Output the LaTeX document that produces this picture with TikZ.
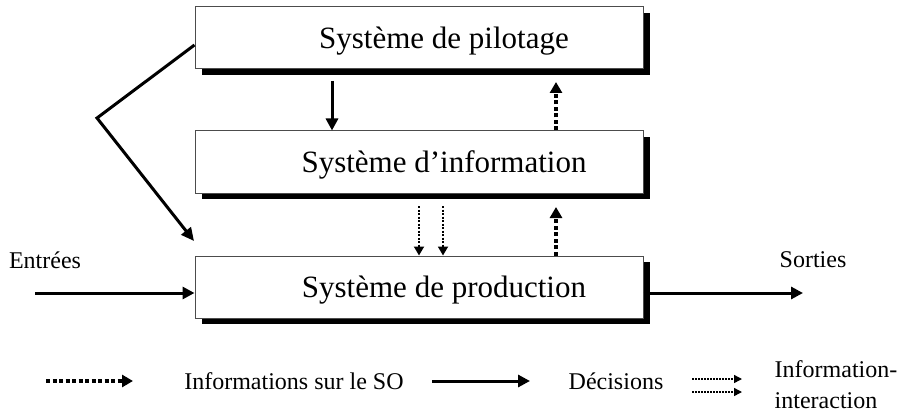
\documentclass[tikz,border=0pt]{standalone}
\usepackage{fontspec}
\setmainfont{Liberation Serif}
\usetikzlibrary{arrows.meta,shadows}
\begin{document}
\begin{tikzpicture}[x=1pt,y=-1pt,
  sysbox/.style={draw=black!70, line width=1pt, fill=white,
    minimum width=448pt, minimum height=62pt, inner sep=0pt,
    text height=21pt, text depth=0pt,
    font=\fontsize{31}{36}\selectfont,
    execute at begin node={\hspace*{50pt}},
    drop shadow={shadow xshift=7pt, shadow yshift=-6pt, fill=black, opacity=1}},
  lbl/.style={inner sep=0pt, font=\fontsize{24}{31}\selectfont},
  solidar/.style={line width=3pt, -{Triangle[length=12pt,width=12pt]}},
  dotar/.style={line width=3.5pt, dash pattern=on 4pt off 2.5pt, -{Triangle[length=11pt,width=12pt]}},
  thindot/.style={line width=1.8pt, dash pattern=on 2pt off 1.5pt, -{Triangle[length=9pt,width=10pt]}},
  legthin/.style={line width=1.4pt, dash pattern=on 2pt off 1pt, -{Triangle[length=8pt,width=8pt]}}
]
\useasboundingbox (0,0) rectangle (920,414);

% boxes
\node[sysbox] (pil) at (419,38) {Système de pilotage};
\node[sysbox] (info) at (419,162) {Système d’information};
\node[sysbox] (prod) at (419,287) {Système de production};

% side labels
\node[lbl] (ent) at (45,260) {Entrées};
\node[lbl] (sor) at (813,260) {Sorties};

% coordinates
\coordinate (d1) at (332,81);
\coordinate (u1) at (556,82);
\coordinate (u2) at (556,207);
\coordinate (t1) at (419,206);
\coordinate (t2) at (443,206);
\coordinate (b0) at (0,45);
\coordinate (bend) at (97,118);
\coordinate (btip) at (194,241);
\coordinate (ein) at (35,293);
\coordinate (sout) at (803,293);

% connectors
\draw[solidar] (d1) -- (info.north -| d1);
\draw[dotar] (info.north -| u1) -- (u1);
\draw[dotar] (prod.north -| u2) -- (u2);
\draw[thindot] (t1) -- (prod.north -| t1);
\draw[thindot] (t2) -- (prod.north -| t2);
\draw[line width=3pt, line join=miter, -{Triangle[length=13pt,width=12pt]}] (pil.west |- b0) -- (bend) -- (btip);
\draw[solidar] (ein) -- (prod.west |- ein);
\draw[solidar] (prod.east |- sout) -- (sout);

% legend
\coordinate (la1) at (46,381);
\coordinate (la2) at (133,381);
\coordinate (lb1) at (432,381);
\coordinate (lb2) at (530,381);
\coordinate (lc1) at (692,379);
\coordinate (lc2) at (742,379);
\coordinate (ld1) at (692,392);
\coordinate (ld2) at (742,392);
\draw[dotar] (la1) -- (la2);
\draw[solidar] (lb1) -- (lb2);
\draw[legthin] (lc1) -- (lc2);
\draw[legthin] (ld1) -- (ld2);
\node[lbl] (l1) at (294,381) {Informations sur le SO};
\node[lbl] (l2) at (616,381) {Décisions};
\node[lbl, align=left] (l3) at (836,384.5) {Information-\\interaction};
\end{tikzpicture}
\end{document}
